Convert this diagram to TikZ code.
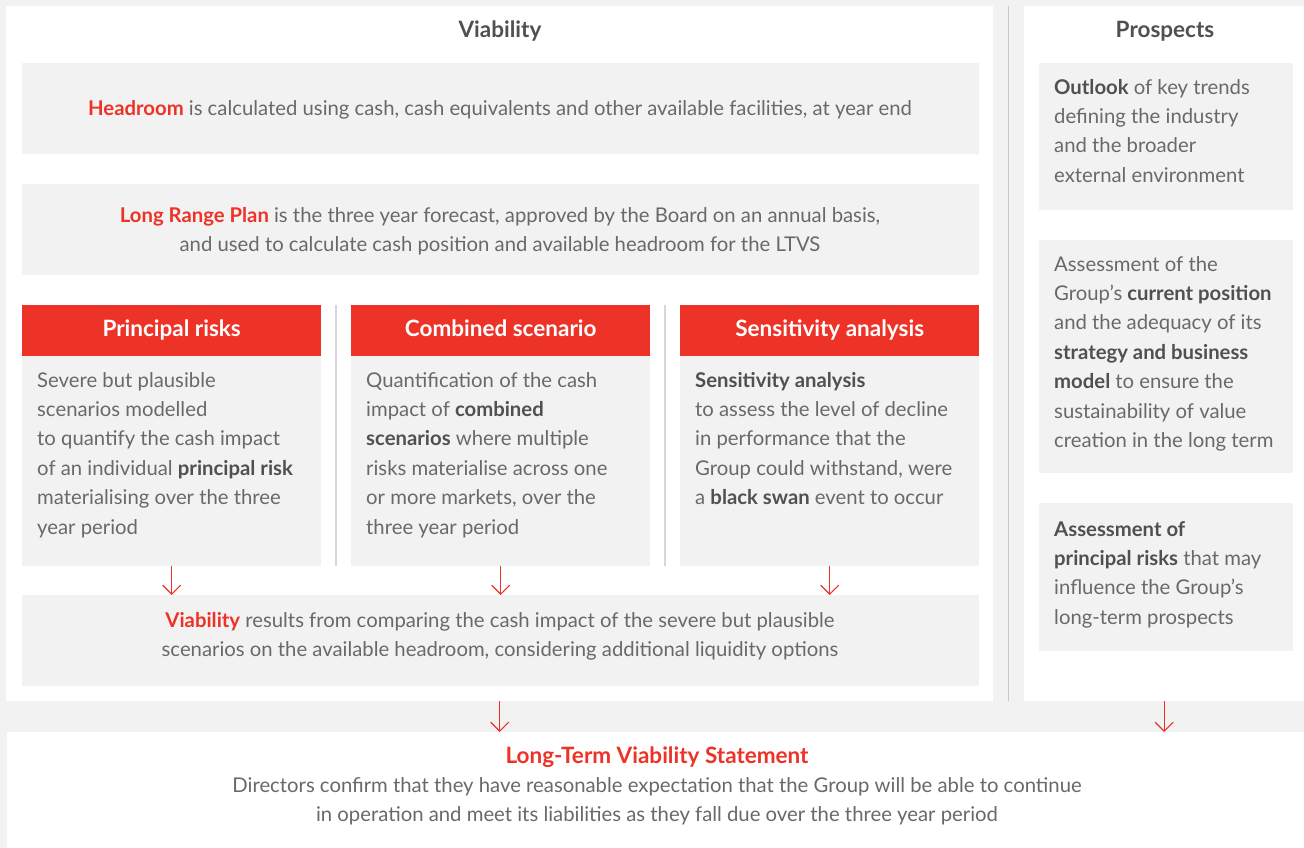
\documentclass[tikz,border=0pt]{standalone}
\usepackage{fontspec}
\setmainfont{Lato}
\usetikzlibrary{arrows.meta}
\definecolor{vred}{RGB}{237,50,39}
\definecolor{vgrey}{RGB}{242,242,242}
\definecolor{vtext}{RGB}{105,105,105}
\definecolor{vbold}{RGB}{80,80,80}
\definecolor{vline}{RGB}{215,215,215}
\definecolor{vdark}{RGB}{200,200,200}
\newcommand{\bt}[1]{{\bfseries\color{vbold}#1}}
\newcommand{\rt}[1]{{\bfseries\color{vred}#1}}
\tikzset{
  box/.style={fill=vgrey, draw=none, inner sep=0pt, anchor=north west},
  panel/.style={fill=white, draw=none, inner sep=0pt, anchor=north west},
  hdr/.style={fill=vred, draw=none, inner sep=0pt, anchor=north west, text=white, font=\fontsize{22.5}{26}\selectfont\bfseries, text height=16pt, text depth=5pt},
  txt/.style={inner sep=0pt, text=vtext, font=\fontsize{20.3}{29.4}\selectfont},
  ttl/.style={inner sep=0pt, text=vbold, font=\fontsize{22.5}{26}\selectfont\bfseries, anchor=base},
  arr/.style={draw=vred, line width=1.2pt, -{Straight Barb[length=9pt,width=18pt,line width=1.2pt]}},
  sep/.style={draw=vline, line width=1.5pt},
}
\begin{document}
\begin{tikzpicture}[x=1pt,y=-1pt]
\useasboundingbox (0,0) rectangle (1304,848);
\fill[vgrey] (0,0) rectangle (1304,848);
% panels
\node[panel, minimum width=987pt, minimum height=695pt] (lp) at (6,6) {};
\node[panel, minimum width=280pt, minimum height=695pt] (rp) at (1024,6) {};
\node[panel, minimum width=1297pt, minimum height=116pt] (bp) at (7,732) {};
\coordinate (vlt) at (1008.5,6);
\coordinate (vlb) at (1008.5,701);
\draw[draw=vdark, line width=1.5pt] (vlt) -- (vlb);
% titles
\node[ttl] (tv) at (500,38) {Viability};
\node[ttl] (tp) at (1165,38) {Prospects};
% headroom
\node[box, minimum width=957pt, minimum height=91pt] (hr) at (22,63) {};
\node[txt, anchor=base] (hrt) at (500,116) {\rt{Headroom} is calculated using cash, cash equivalents and other available facilities, at year end};
% long range plan
\node[box, minimum width=957pt, minimum height=91pt] (lr) at (22,184) {};
\node[txt, anchor=base, align=center] (lrt) at (500,251.4) {\rt{Long Range Plan} is the three year forecast, approved by the Board on an annual basis,\\ and used to calculate cash position and available headroom for the LTVS};
% column separators
\coordinate (s1t) at (336,305); \coordinate (s1b) at (336,566);
\coordinate (s2t) at (665,305); \coordinate (s2b) at (665,566);
\draw[sep] (s1t) -- (s1b);
\draw[sep] (s2t) -- (s2b);
% columns
\node[hdr, minimum width=299pt, minimum height=51pt] (h1) at (22,305) {Principal risks};
\node[hdr, minimum width=299pt, minimum height=51pt] (h2) at (351,305) {Combined scenario};
\node[hdr, minimum width=299pt, minimum height=51pt] (h3) at (680,305) {Sensitivity analysis};
\node[box, minimum width=299pt, minimum height=210pt] (b1) at (22,356) {};
\node[box, minimum width=299pt, minimum height=210pt] (b2) at (351,356) {};
\node[box, minimum width=299pt, minimum height=210pt] (b3) at (680,356) {};
\node[txt, anchor=base west, align=left] (t1) at (37,534) {Severe but plausible\\ scenarios modelled\\ to quantify the cash impact\\ of an individual \bt{principal risk}\\ materialising over the three\\ year period};
\node[txt, anchor=base west, align=left] (t2) at (366,534) {Quantification of the cash\\ impact of \bt{combined}\\ \bt{scenarios} where multiple\\ risks materialise across one\\ or more markets, over the\\ three year period};
\node[txt, anchor=base west, align=left] (t3) at (695,504.6) {\bt{Sensitivity analysis}\\ to assess the level of decline\\ in performance that the\\ Group could withstand, were\\ a \bt{black swan} event to occur};
% viability
\node[box, minimum width=957pt, minimum height=91pt] (vb) at (22,595) {};
\node[txt, anchor=base, align=center] (vbt) at (500,656.4) {\rt{Viability} results from comparing the cash impact of the severe but plausible\\ scenarios on the available headroom, considering additional liquidity options};
\draw[arr] (b1.south) -- (b1.south |- vb.north);
\draw[arr] (b2.south) -- (b2.south |- vb.north);
\draw[arr] (b3.south) -- (b3.south |- vb.north);
% prospects boxes
\node[box, minimum width=254pt, minimum height=147pt] (p1) at (1039,63) {};
\node[box, minimum width=254pt, minimum height=233pt] (p2) at (1039,240) {};
\node[box, minimum width=254pt, minimum height=148pt] (p3) at (1039,503) {};
\node[txt, anchor=base west, align=left] (pt1) at (1054,182.2) {\bt{Outlook} of key trends\\ defining the industry\\ and the broader\\ external environment};
\node[txt, anchor=base west, align=left] (pt2) at (1054,447.4) {Assessment of the\\ Group’s \bt{current position}\\ and the adequacy of its\\ \bt{strategy and business}\\ \bt{model} to ensure the\\ sustainability of value\\ creation in the long term};
\node[txt, anchor=base west, align=left] (pt3) at (1054,624.2) {\bt{Assessment of}\\ \bt{principal risks} that may\\ influence the Group’s\\ long-term prospects};
% bottom arrows
\draw[arr] (lp.south) -- (lp.south |- bp.north);
\draw[arr] (rp.south) -- (rp.south |- bp.north);
% statement
\node[txt, anchor=base, align=center] (st) at (657,821.8) {{\fontsize{22.5}{29.4}\selectfont\rt{Long-Term Viability Statement}}\\ Directors confirm that they have reasonable expectation that the Group will be able to continue\\ in operation and meet its liabilities as they fall due over the three year period};
\end{tikzpicture}
\end{document}
